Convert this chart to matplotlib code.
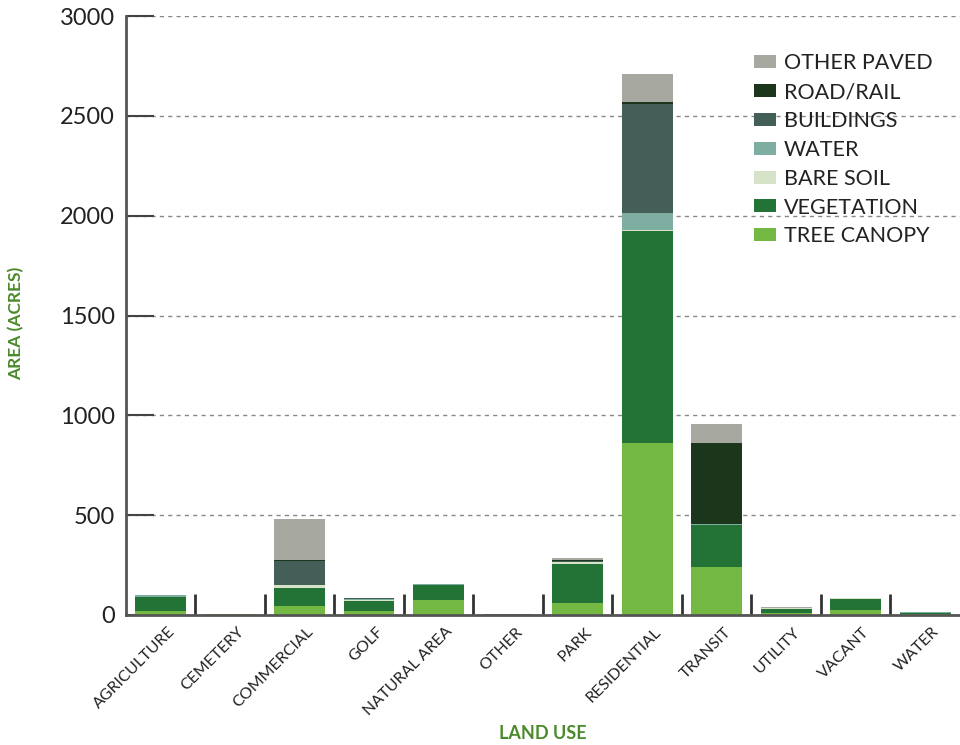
import matplotlib.pyplot as plt
import matplotlib.transforms as mtransforms
import numpy as np

# datos (acres)
land_use = ["AGRICULTURE", "CEMETERY", "COMMERCIAL", "GOLF", "NATURAL AREA", "OTHER",
            "PARK", "RESIDENTIAL", "TRANSIT", "UTILITY", "VACANT", "WATER"]

tree_canopy = [20, 3, 45, 20, 75, 2, 60, 861, 240, 10, 25, 3]
vegetation = [70, 3, 90, 50, 75, 2, 195, 1062, 210, 20, 55, 5]
bare_soil = [0, 0, 15, 5, 0, 0, 8, 5, 0, 3, 5, 0]
water = [8, 0, 0, 3, 5, 0, 3, 85, 5, 0, 0, 5]
buildings = [0, 0, 122, 5, 0, 0, 5, 547, 0, 0, 0, 0]
road_rail = [0, 0, 3, 0, 0, 0, 3, 8, 406, 0, 0, 0]
other_paved = [2, 0, 205, 2, 0, 0, 12, 141, 95, 5, 0, 0]

capas = [
    ("TREE CANOPY", tree_canopy, "#72b843"),
    ("VEGETATION", vegetation, "#237337"),
    ("BARE SOIL", bare_soil, "#d6e3c8"),
    ("WATER", water, "#7eaea2"),
    ("BUILDINGS", buildings, "#445e58"),
    ("ROAD/RAIL", road_rail, "#1b361b"),
    ("OTHER PAVED", other_paved, "#a7a9a1"),
]

plt.rcParams["font.family"] = ["Lato", "DejaVu Sans"]

fig = plt.figure(figsize=(9.6, 7.45), dpi=100)
ax = fig.add_axes([0.131, 0.1745, 0.869, 0.804])

x = np.arange(len(land_use))
base = np.zeros(len(land_use))
for nombre, valores, color in capas:
    ax.bar(x, valores, bottom=base, width=0.73, color=color, label=nombre, zorder=2)
    base += np.array(valores)

ax.set_xlim(-0.5, len(land_use) - 0.5)
ax.set_ylim(0, 3000)
ax.set_yticks(np.arange(0, 3001, 500))
ax.tick_params(axis="y", direction="in", length=20, width=1.5, color="#444444",
               labelsize=17, labelcolor="#222222", pad=8)
ax.grid(axis="y", linestyle=(0, (3, 3)), color="#888888", linewidth=1, zorder=0)

# marcas en los limites de categoria, etiquetas en el centro
ax.set_xticks(np.arange(0.5, len(land_use) - 0.5, 1))
ax.set_xticklabels([])
ax.tick_params(axis="x", which="major", direction="in", length=15, width=2, color="#333333")
ax.set_xticks(x, minor=True)
ax.set_xticklabels(land_use, minor=True, rotation=45, ha="right", rotation_mode="anchor",
                   fontsize=11.5, color="#222222")
ax.tick_params(axis="x", which="minor", length=0, pad=7)
desplazo = mtransforms.ScaledTranslation(7 / 100, 0, fig.dpi_scale_trans)
for etiqueta in ax.get_xticklabels(minor=True):
    etiqueta.set_transform(etiqueta.get_transform() + desplazo)

for lado in ["top", "right"]:
    ax.spines[lado].set_visible(False)
for lado in ["left", "bottom"]:
    ax.spines[lado].set_color("#555555")
    ax.spines[lado].set_linewidth(2)

ax.set_xlabel("LAND USE", fontsize=13, fontweight="bold", color="#4a8a2a")
ax.xaxis.set_label_coords(0.5, -0.183)
ax.set_ylabel("AREA (ACRES)", fontsize=12.5, fontweight="bold", color="#4a8a2a")
ax.yaxis.set_label_coords(-0.121, 0.487)

handles, labels = ax.get_legend_handles_labels()
ax.legend(handles[::-1], labels[::-1], loc="upper left", bbox_to_anchor=(0.743, 0.952),
          borderaxespad=0, frameon=False, fontsize=15.5, handlelength=1.0,
          handleheight=0.55, handletextpad=0.37, labelspacing=0.41, labelcolor="#222222")

plt.savefig("out.png", dpi=100)
